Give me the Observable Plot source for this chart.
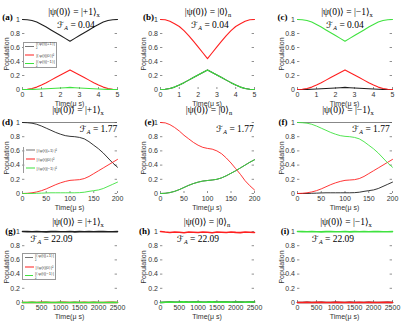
<!DOCTYPE html>
<html><head><meta charset="utf-8">
<script src="https://cdn.jsdelivr.net/npm/d3@7"></script>
<script src="https://cdn.jsdelivr.net/npm/@observablehq/plot@0.6"></script>
<style>
body{margin:0;background:#fff;}
#c{position:relative;width:415px;height:331px;overflow:hidden;font-family:"Liberation Sans",Arial,sans-serif;color:#222;}
.abs{position:absolute;white-space:nowrap;line-height:1;}
.ctr{transform:translate(-50%,-50%);}
.ttl{font-family:"Liberation Serif","DejaVu Serif",serif;font-size:9.5px;color:#000;}
.ttl sub{font-size:6.5px;vertical-align:-2px;}
.fa{font-family:"Liberation Serif","DejaVu Serif",serif;font-size:9.5px;color:#000;}
.fa i{font-family:"DejaVu Sans",serif;font-size:9px;}
.fa sub{font-size:6px;vertical-align:-2px;font-style:italic;}
.pl{font-family:"Liberation Serif",serif;font-weight:bold;font-size:9px;color:#000;}
.yl{font-size:7px;color:#333;}
.xl{font-size:7px;color:#333;}
.leg{position:absolute;background:#fff;border:0.6px solid #999;box-sizing:border-box;font-size:4.2px;color:#444;}
.leg .row{position:absolute;left:1.5px;display:flex;align-items:center;transform:translateY(-50%);}
.leg .sw{width:9px;margin-right:2px;}
svg{position:absolute;}
</style></head>
<body><div id="c"></div>
<script>
// ---- data ----
const t1 = [0,0.25,0.5,0.75,1,1.25,1.5,1.75,2,2.25,2.5,2.75,3,3.25,3.5,3.75,4,4.25,4.5,4.75,5];
const t2 = [0,10,20,30,40,50,60,70,80,90,100,110,120,130,140,150,160,170,180,190,200];
const t3 = [0,125,250,375,500,625,750,875,1000,1125,1250,1375,1500,1625,1750,1875,2000,2125,2250,2375,2500];

const xTicks1 = [0,1,2,3,4,5];
const xTicks2 = [0,50,100,150,200];
const xTicks3 = [0,500,1000,1500,2000,2500];
const yTicks = [0,0.2,0.4,0.6,0.8,1];
const yTickLabels = ["0","0.2","0.4","0.6","0.8","1"];

// Row 1 (F_A = 0.04)
const a_plus  = [1,0.997,0.985,0.963,0.929,0.892,0.851,0.811,0.771,0.730,0.69,0.730,0.771,0.811,0.851,0.892,0.929,0.963,0.985,0.997,1];
const a_zero  = [0,0.003,0.014,0.034,0.064,0.098,0.134,0.171,0.207,0.244,0.28,0.244,0.207,0.171,0.134,0.098,0.064,0.034,0.014,0.003,0];
const a_minus = [0,0,0.002,0.004,0.007,0.011,0.014,0.018,0.022,0.026,0.03,0.026,0.022,0.018,0.014,0.011,0.007,0.004,0.002,0,0];
const b_plus  = [0,0.003,0.014,0.034,0.064,0.098,0.134,0.171,0.207,0.244,0.28,0.244,0.207,0.171,0.134,0.098,0.064,0.034,0.014,0.003,0];
const b_zero  = [1,0.996,0.975,0.94,0.9,0.84,0.77,0.69,0.61,0.525,0.44,0.525,0.61,0.69,0.77,0.84,0.9,0.94,0.975,0.996,1];
const b_minus = [0,0.003,0.014,0.034,0.064,0.098,0.134,0.171,0.207,0.244,0.28,0.244,0.207,0.171,0.134,0.098,0.064,0.034,0.014,0.003,0];
const c_plus  = [0,0,0.002,0.004,0.007,0.011,0.014,0.018,0.022,0.026,0.03,0.026,0.022,0.018,0.014,0.011,0.007,0.004,0.002,0,0];
const c_zero  = [0,0.003,0.014,0.034,0.064,0.098,0.134,0.171,0.207,0.244,0.28,0.244,0.207,0.171,0.134,0.098,0.064,0.034,0.014,0.003,0];
const c_minus = [1,0.997,0.985,0.963,0.929,0.892,0.851,0.811,0.771,0.730,0.69,0.730,0.771,0.811,0.851,0.892,0.929,0.963,0.985,0.997,1];

// Row 2 (F_A = 1.77)
const d_plus  = [1,0.997,0.99,0.975,0.95,0.92,0.89,0.86,0.835,0.815,0.805,0.8,0.79,0.77,0.73,0.68,0.63,0.57,0.5,0.43,0.37];
const d_zero  = [0,0.003,0.01,0.022,0.04,0.065,0.095,0.125,0.15,0.17,0.185,0.19,0.195,0.21,0.24,0.28,0.32,0.36,0.4,0.44,0.48];
const d_minus = [0,0,0,0.003,0.005,0.008,0.01,0.01,0.01,0.01,0.01,0.01,0.012,0.018,0.03,0.04,0.05,0.07,0.1,0.13,0.16];
const e_plus  = [0,0.003,0.013,0.03,0.055,0.085,0.115,0.14,0.16,0.175,0.183,0.19,0.2,0.22,0.25,0.285,0.32,0.36,0.4,0.44,0.475];
const e_zero  = [1,0.995,0.97,0.93,0.88,0.82,0.77,0.72,0.68,0.65,0.635,0.625,0.6,0.56,0.5,0.43,0.35,0.27,0.18,0.11,0.05];
const e_minus = [0,0.003,0.013,0.03,0.055,0.085,0.115,0.14,0.16,0.175,0.183,0.19,0.2,0.22,0.25,0.285,0.32,0.36,0.4,0.44,0.475];
const f_plus  = [0,0,0,0.003,0.005,0.008,0.01,0.01,0.01,0.01,0.01,0.01,0.012,0.018,0.03,0.04,0.05,0.07,0.1,0.13,0.16];
const f_zero  = [0,0.003,0.01,0.022,0.04,0.065,0.095,0.125,0.15,0.17,0.185,0.19,0.195,0.21,0.24,0.28,0.32,0.36,0.4,0.44,0.48];
const f_minus = [1,0.997,0.99,0.975,0.95,0.92,0.89,0.86,0.835,0.815,0.805,0.8,0.79,0.77,0.73,0.68,0.63,0.57,0.5,0.43,0.37];

// Row 3 (F_A = 22.09)
const g_plus  = [1,0.998,0.996,0.999,0.997,0.995,0.998,0.999,0.996,0.997,0.999,0.995,0.998,0.997,0.999,0.996,0.998,0.999,0.997,0.996,0.998];
const g_zero  = [0,0.001,0.002,0.001,0.002,0.003,0.001,0.001,0.002,0.002,0.001,0.003,0.001,0.002,0.001,0.002,0.001,0.001,0.002,0.002,0.001];
const g_minus = [0,0.001,0.002,0,0.001,0.002,0.001,0,0.002,0.001,0,0.002,0.001,0.001,0,0.002,0.001,0,0.001,0.002,0.001];
const h_plus  = [0,0.004,0.007,0.003,0.005,0.009,0.004,0.005,0.007,0.003,0.005,0.009,0.004,0.005,0.007,0.003,0.006,0.008,0.004,0.005,0.007];
const h_zero  = [1,0.992,0.986,0.994,0.99,0.982,0.992,0.99,0.986,0.994,0.99,0.982,0.992,0.99,0.986,0.994,0.988,0.984,0.992,0.99,0.986];
const h_minus = [0,0.004,0.007,0.003,0.005,0.009,0.004,0.005,0.007,0.003,0.005,0.009,0.004,0.005,0.007,0.003,0.006,0.008,0.004,0.005,0.007];
const i_plus  = [0,0.001,0.002,0,0.001,0.002,0.001,0,0.002,0.001,0,0.002,0.001,0.001,0,0.002,0.001,0,0.001,0.002,0.001];
const i_zero  = [0,0.001,0.002,0.001,0.002,0.003,0.001,0.001,0.002,0.002,0.001,0.003,0.001,0.002,0.001,0.002,0.001,0.001,0.002,0.002,0.001];
const i_minus = [1,0.998,0.996,0.999,0.997,0.995,0.998,0.999,0.996,0.997,0.999,0.995,0.998,0.997,0.999,0.996,0.998,0.999,0.997,0.996,0.998];

const panelLetters = ["(a)","(b)","(c)","(d)","(e)","(f)","(g)","(h)","(i)"];
const stateKets = ["|+1⟩","|0⟩","|−1⟩"];
const stateSubs = ["x","n","x"];
const faValues = ["0.04","1.77","22.09"];
const legendLabels = ["|⟨ψ(t)|+1⟩|²","|⟨ψ(t)|0⟩|²","|⟨ψ(t)|−1⟩|²"];
const seriesColors = ["#1e1e1e","#ff1f1f","#3fe23f"];
const xLabel = "Time(μ s)";
const yLabel = "Population";

const rowTimes = [t1,t2,t3];
const rowXTicks = [xTicks1,xTicks2,xTicks3];
const rowMax = [5,200,2500];
const panelSeries = [
  [a_plus,a_zero,a_minus],[b_plus,b_zero,b_minus],[c_plus,c_zero,c_minus],
  [d_plus,d_zero,d_minus],[e_plus,e_zero,e_minus],[f_plus,f_zero,f_minus],
  [g_plus,g_zero,g_minus],[h_plus,h_zero,h_minus],[i_plus,i_zero,i_minus]
];

// ---- layout ----
const cols = [{l:22,r:117},{l:160,r:254},{l:297,r:392}];
const rows = [{t:19,b:89},{t:122,b:193},{t:231,b:302}];
const lineW = [1.1,0.9,1.6];
const titlePos = [[74,13],[208,13],[347,13],[78,111],[209,111],[348,111],[78,222.5],[207,222.5],[346,222.5]];
const faPos = [[76,25.5],[210,25.5],[345,25.5],[98.5,130],[235,130],[371,130],[51.5,240],[198,240],[333,240]];
const labelPos = [[7.5,17],[148.5,17],[282.5,17],[7.5,122],[149.5,122],[283,122],[10.5,231],[144.5,231],[285,231]];
const ylabX = [6,142.5,281];
const legends = {0:{l:22.7,t:41.7,w:34,h:26.3}, 3:{l:23,t:146.5,w:34,h:26.5}, 6:{l:22,t:253,w:33.5,h:27}};

const root = document.getElementById("c");
function addDiv(cls, html, x, y, extra) {
  const d = document.createElement("div");
  d.className = "abs " + cls;
  d.innerHTML = html;
  d.style.left = x + "px"; d.style.top = y + "px";
  if (extra) Object.assign(d.style, extra);
  root.appendChild(d);
  return d;
}

for (let r = 0; r < 3; r++) {
  for (let c = 0; c < 3; c++) {
    const p = r*3 + c;
    const col = cols[c], row = rows[r];
    const T = rowMax[r], ts = rowTimes[r], xt = rowXTicks[r];
    const mL = 24, mR = 6, mT = 4, mB = 14;
    const W = col.r - col.l, H = row.b - row.t;
    const data = [];
    panelSeries[p].forEach((vals, s) => vals.forEach((v, k) => data.push({t: ts[k], v, s})));
    const marks = [
      Plot.ruleX(xt, {x: d => d, y1: 0, y2: 0.028, stroke: "#444", strokeWidth: 0.6}),
      Plot.ruleY(yTicks, {y: d => d, x1: 0, x2: T*0.025, stroke: "#444", strokeWidth: 0.6}),
      Plot.ruleY(yTicks, {y: d => d, x1: T*0.975, x2: T, stroke: "#444", strokeWidth: 0.6}),
      Plot.axisX({ticks: xt, tickSize: 0, tickPadding: 3, tickFormat: d => String(d), label: null}),
      Plot.axisY({ticks: yTicks, tickSize: 0, tickPadding: 2.5, tickFormat: (d, i) => yTickLabels[i], label: null})
    ];
    if (p === 3 || p === 5) marks.push(Plot.ruleY([1], {stroke: "#555", strokeWidth: 0.7}));
    [0,1,2].forEach(s => marks.push(Plot.line(data.filter(d => d.s === s), {x: "t", y: "v", stroke: seriesColors[s], strokeWidth: lineW[r]})));
    const svg = Plot.plot({
      width: W + mL + mR, height: H + mT + mB,
      marginLeft: mL, marginRight: mR, marginTop: mT, marginBottom: mB,
      x: {domain: [0, T]},
      y: {domain: [0, 1]},
      style: {fontSize: "7px", fontFamily: "'Liberation Sans', Arial, sans-serif", color: "#333", background: "transparent", overflow: "visible"},
      marks
    });
    svg.style.left = (col.l - mL) + "px";
    svg.style.top = (row.t - mT) + "px";
    root.appendChild(svg);

    // texts
    addDiv("ttl ctr", `|ψ(0)⟩ = ${stateKets[c]}<sub>${stateSubs[c]}</sub>`, titlePos[p][0], titlePos[p][1]);
    addDiv("fa ctr", `<i>ℱ</i><sub>A</sub> = ${faValues[r]}`, faPos[p][0], faPos[p][1]);
    addDiv("pl ctr", panelLetters[p], labelPos[p][0], labelPos[p][1]);
    addDiv("yl", yLabel, ylabX[c], (row.t + row.b)/2, {transform: "translate(-50%,-50%) rotate(-90deg)"});
    addDiv("xl ctr", xLabel, (col.l + col.r)/2, row.b + 13.5);

    if (legends[p]) {
      const L = legends[p];
      const box = document.createElement("div");
      box.className = "leg";
      Object.assign(box.style, {left: L.l + "px", top: L.t + "px", width: L.w + "px", height: L.h + "px"});
      if (p === 3) { box.style.borderTop = "none"; box.style.borderRight = "none"; box.style.borderBottom = "none"; box.style.background = "transparent"; }
      legendLabels.forEach((lab, s) => {
        const rw = document.createElement("div");
        rw.className = "row";
        rw.style.top = (L.h * (0.14 + 0.33 * s)) + "px";
        const sw = document.createElement("div");
        sw.className = "sw";
        sw.style.borderTop = (p === 3 ? 1.6 : 1) + "px solid " + (s === 0 ? "#777" : seriesColors[s]);
        rw.appendChild(sw);
        const tx = document.createElement("span");
        tx.textContent = lab;
        rw.appendChild(tx);
        box.appendChild(rw);
      });
      root.appendChild(box);
    }
  }
}
</script></body></html>
